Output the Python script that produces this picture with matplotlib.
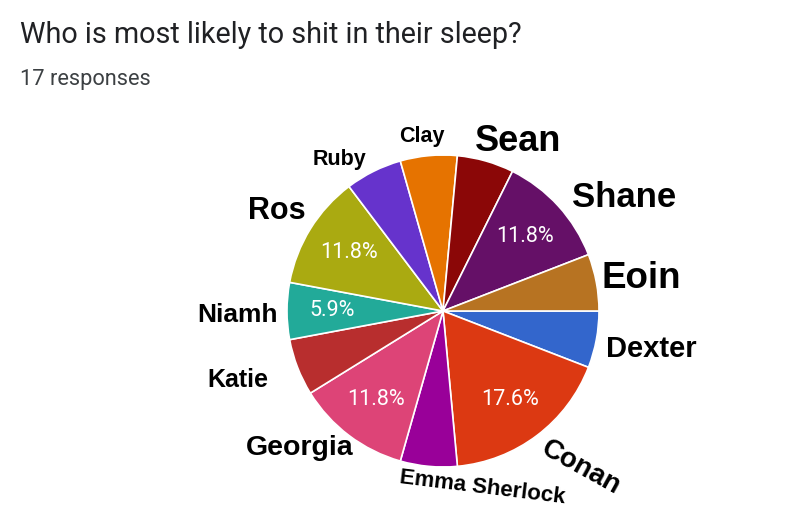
import numpy as np
import matplotlib
matplotlib.use("Agg")
import matplotlib.pyplot as plt

# ---- data ----
names = ["Dexter", "Conan", "Emma Sherlock", "Georgia", "Katie", "Niamh",
         "Ros", "Ruby", "Clay", "Sean", "Shane", "Eoin"]
counts = [1, 3, 1, 2, 1, 1, 2, 1, 1, 1, 2, 1]
show_pct = ["Conan", "Georgia", "Niamh", "Ros", "Shane"]
title = "Who is most likely to shit in their sleep?"
subtitle = "17 responses"

colors = ["#3366cc", "#dc3912", "#990099", "#dd4477", "#b82e2e", "#22aa99",
          "#aaaa11", "#6633cc", "#e67300", "#8b0707", "#651067", "#b77322"]

# label layout: (angle offset deg ccw, radius factor, font size pt, rotation)
label_style = {
    "Dexter": (0.3, 1.36, 21, 0),
    "Conan": (4.4, 1.34, 20, -29),
    "Emma Sherlock": (17.7, 1.16, 16, -7),
    "Georgia": (-9.3, 1.27, 20.5, 0),
    "Katie": (-2.6, 1.385, 18, 0),
    "Niamh": (1, 1.32, 19, 0),
    "Ros": (0.8, 1.245, 22, 0),
    "Ruby": (7.9, 1.18, 15.5, 0),
    "Clay": (1.7, 1.13, 15.5, 0),
    "Sean": (-8.1, 1.19, 26, 0),
    "Shane": (-10.4, 1.37, 25, 0),
    "Eoin": (-1.4, 1.29, 26.5, 0),
}

W, H = 800, 515
fig = plt.figure(figsize=(W / 100, H / 100), dpi=100)
ax = fig.add_axes([0, 0, 1, 1])
ax.set_xlim(0, W)
ax.set_ylim(0, H)
ax.set_aspect("equal")
ax.axis("off")

cx, cy, R = 443, H - 311, 156
wedges, _ = ax.pie(counts, colors=colors, startangle=0, counterclock=False,
                   center=(cx, cy), radius=R,
                   wedgeprops=dict(edgecolor="white", linewidth=1.2))
ax.set_xlim(0, W)
ax.set_ylim(0, H)

total = sum(counts)
for w, name, c in zip(wedges, names, counts):
    mid = np.deg2rad((w.theta1 + w.theta2) / 2)
    if name in show_pct:
        r = 0.71 * R
        ax.text(cx + r * np.cos(mid), cy + r * np.sin(mid),
                f"{100 * c / total:.1f}%", color="white", fontsize=15.5,
                family="Roboto", ha="center", va="center")
    da, rf, fs, rot = label_style[name]
    a = mid + np.deg2rad(da)
    ax.text(cx + rf * R * np.cos(a), cy + rf * R * np.sin(a), name,
            fontsize=fs, fontweight="bold", family="Liberation Sans",
            ha="center", va="center", rotation=rot, color="black")

ax.text(20, H - 35, title, fontsize=20.7, family="Roboto", color="#202124",
        ha="left", va="center")
ax.text(20, H - 80, subtitle, fontsize=15.7, family="Roboto", color="#3c4043",
        ha="left", va="center")

fig.savefig("out.png", dpi=100, facecolor="white")
